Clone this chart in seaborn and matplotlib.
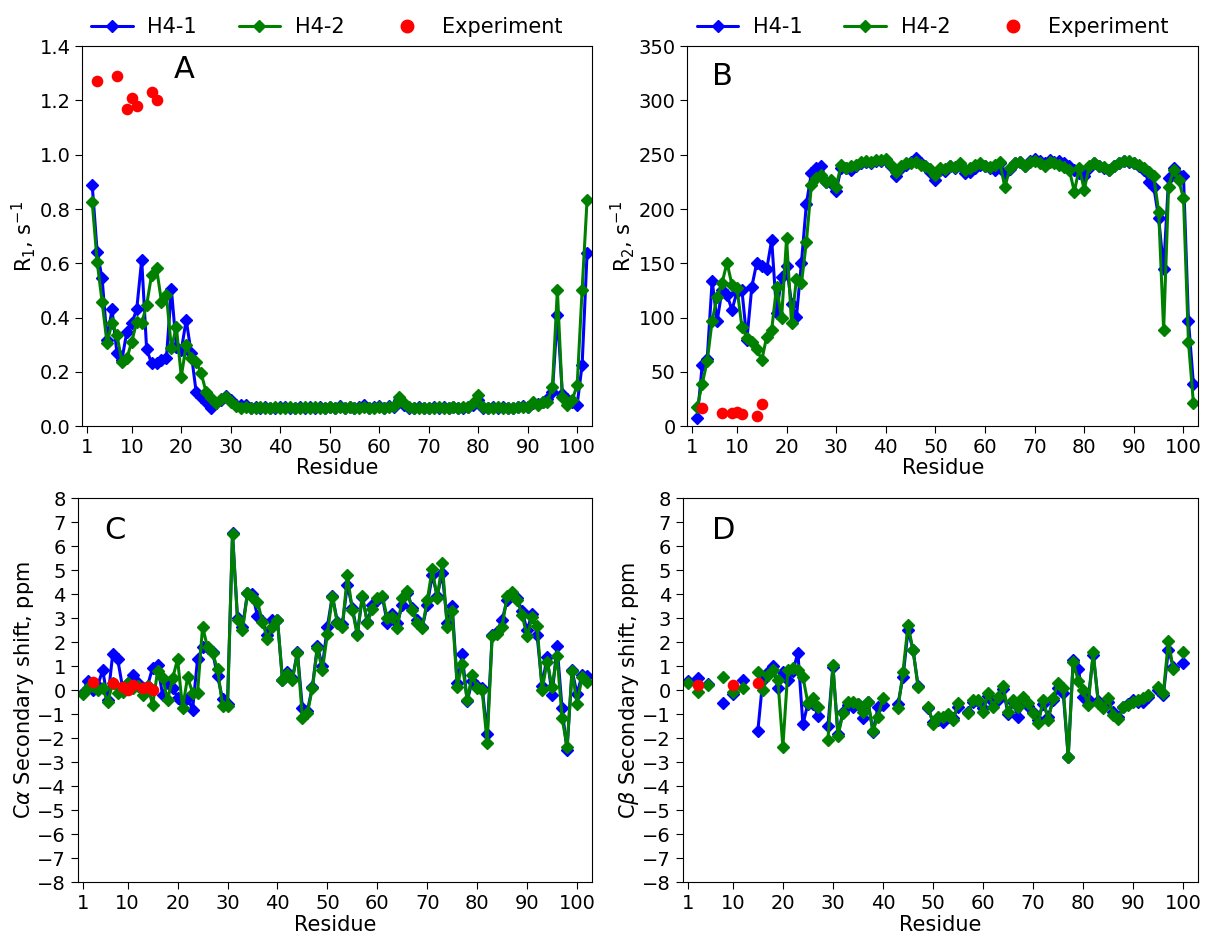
import numpy as np
import pandas as pd
import matplotlib
matplotlib.use("Agg")
import matplotlib.pyplot as plt
from matplotlib.lines import Line2D
import seaborn as sns

nan = np.nan

# --- DATA ---
# relaxation panels start at residue 2, chemical shift panels at residue 1
relax_residues = np.arange(2, 103)
shift_residues = np.arange(1, 103)

r1_h41 = [0.889, 0.643, 0.545, 0.318, 0.431, 0.27, 0.245, 0.348, 0.379, 0.431,
          0.613, 0.284, 0.232, 0.232, 0.244, 0.251, 0.505, 0.293, 0.28, 0.392,
          0.27, 0.127, 0.107, 0.091, 0.066, 0.085, 0.095, 0.11, 0.095, 0.08,
          0.08, 0.078, 0.068, 0.072, 0.066, 0.07, 0.068, 0.066, 0.07, 0.072,
          0.066, 0.068, 0.07, 0.066, 0.07, 0.068, 0.072, 0.066, 0.07, 0.068,
          0.074, 0.068, 0.07, 0.066, 0.07, 0.078, 0.068, 0.07, 0.074, 0.068,
          0.074, 0.07, 0.098, 0.08, 0.068, 0.066, 0.07, 0.068, 0.066, 0.07,
          0.068, 0.07, 0.066, 0.072, 0.066, 0.068, 0.072, 0.08, 0.095, 0.066,
          0.068, 0.07, 0.066, 0.07, 0.068, 0.066, 0.07, 0.075, 0.072, 0.085,
          0.082, 0.09, 0.1, 0.128, 0.41, 0.12, 0.1, 0.09, 0.08, 0.226, 0.637]
r1_h42 = [0.827, 0.606, 0.459, 0.306, 0.382, 0.336, 0.238, 0.25, 0.312, 0.385,
          0.379, 0.447, 0.557, 0.582, 0.459, 0.484, 0.287, 0.367, 0.183, 0.30,
          0.25, 0.238, 0.197, 0.127, 0.105, 0.085, 0.1, 0.109, 0.09, 0.073,
          0.066, 0.07, 0.066, 0.068, 0.07, 0.066, 0.068, 0.07, 0.066, 0.068,
          0.07, 0.068, 0.066, 0.07, 0.068, 0.07, 0.066, 0.068, 0.07, 0.066,
          0.07, 0.068, 0.07, 0.068, 0.066, 0.07, 0.068, 0.066, 0.07, 0.068,
          0.07, 0.075, 0.108, 0.085, 0.07, 0.066, 0.068, 0.066, 0.068, 0.066,
          0.07, 0.068, 0.066, 0.07, 0.068, 0.07, 0.072, 0.085, 0.115, 0.07,
          0.068, 0.066, 0.07, 0.068, 0.066, 0.068, 0.07, 0.072, 0.07, 0.091,
          0.078, 0.09, 0.09, 0.146, 0.502, 0.109, 0.078, 0.097, 0.152, 0.502, 0.834]
r1_exp_res = [3, 7, 9, 10, 11, 14, 15]
r1_exp = [1.27, 1.29, 1.17, 1.21, 1.18, 1.23, 1.20]

r2_h41 = [7.4, 56.5, 61.7, 134, 96.7, 125.5, 121, 107, 124, 125.5,
          79.5, 128.6, 150.7, 147.6, 144.6, 171.6, 104, 137.8, 147.6, 113,
          101, 150.7, 205, 233, 237.6, 239.7, 225, 224, 217, 238,
          238, 236, 240, 242, 243, 242, 244, 244, 245, 240,
          230, 238, 241, 243, 247, 242, 240, 234, 227, 236,
          235, 240, 238, 241, 233, 234, 238, 241, 240, 238,
          236, 242, 233, 237, 242, 243, 240, 244, 246, 244,
          242, 245, 243, 244, 242, 240, 236, 233, 230, 238,
          242, 240, 238, 236, 240, 242, 244, 243, 242, 240,
          236, 225, 220.7, 191.6, 144.6, 228.4, 238, 231.5, 230, 97.3, 39]
r2_h42 = [18, 39, 60, 97, 119, 132, 150.7, 130, 127, 91.7,
          81, 78, 70.9, 61, 82.5, 89, 128.6, 99.5, 173, 95,
          136, 131.7, 170, 222, 228.4, 231.5, 225, 227, 220.7, 240.7,
          238, 240, 241, 243, 244, 243, 245, 245, 246, 241,
          234, 240, 242, 242, 243, 241, 240, 237, 231, 238,
          237, 240, 239, 242, 236, 238, 241, 242, 240, 239,
          241, 243, 220, 238, 242, 243, 240, 243, 244, 242,
          240, 243, 242, 241, 239, 236, 216, 238, 217.6, 240,
          242, 240, 239, 236, 240, 242, 244, 244, 242, 241,
          238, 234, 230, 197.7, 88.7, 220.7, 236, 226.9, 210, 78, 21.2]
r2_exp_res = [3, 7, 9, 10, 11, 14, 15]
r2_exp = [16.4, 12.4, 12.4, 13.3, 11.2, 9.7, 20.3]

ca_h41 = [-0.1, 0.4, 0.0, 0.2, 0.85, -0.4, 1.5, 1.3, 0.1, 0.3,
          0.65, 0.3, 0.1, 0.2, 0.95, 1.05, -0.2, 0.3, 0.1, -0.3,
          -0.5, -0.3, -0.8, 1.3, 1.8, 1.75, 1.6, 0.6, -0.35, -0.55,
          6.55, 3.0, 2.65, 4.05, 4.0, 3.1, 2.9, 2.3, 2.95, 2.95,
          0.45, 0.75, 0.5, 1.6, -0.75, -0.85, 0.15, 1.85, 1.0, 2.65,
          3.95, 2.85, 2.75, 4.4, 3.45, 2.35, 3.9, 2.85, 3.55, 3.75,
          3.9, 2.8, 3.2, 2.8, 3.55, 4.05, 3.45, 2.95, 2.65, 3.55,
          4.8, 3.95, 4.9, 2.8, 3.5, 0.3, 1.5, -0.45, 0.4, 0.2,
          0.1, -1.8, 2.3, 2.45, 2.95, 3.75, 4.05, 3.85, 3.3, 2.5,
          3.2, 2.3, 0.2, 1.4, -0.2, 1.85, -0.75, -2.5, 0.85, -0.15,
          0.65, 0.6]
ca_h42 = [-0.15, 0.1, 0.2, 0.0, 0.1, -0.5, 0.3, -0.1, -0.05, 0.3,
          0.1, 0.2, -0.2, 0.2, -0.6, 0.8, 0.5, -0.4, 0.5, 1.3,
          -0.75, 0.55, -0.1, -0.1, 2.65, 1.8, 1.55, 0.9, -0.65, -0.65,
          6.5, 2.95, 2.5, 4.05, 3.9, 3.7, 2.85, 2.15, 2.65, 2.95,
          0.45, 0.7, 0.45, 1.55, -1.15, -0.95, 0.1, 1.75, 0.85, 2.35,
          3.9, 2.8, 2.65, 4.8, 3.35, 2.3, 3.95, 2.8, 3.4, 3.85,
          3.95, 3.0, 3.05, 2.6, 3.85, 4.15, 3.35, 2.8, 2.6, 3.75,
          5.05, 3.85, 5.3, 2.65, 3.3, 0.15, 1.1, -0.4, 0.65, 0.1,
          0.0, -2.2, 2.25, 2.35, 2.65, 3.95, 4.1, 3.75, 3.15, 2.25,
          3.05, 2.7, 0.0, 1.2, 0.15, 1.45, -1.15, -2.35, 0.8, -0.55,
          0.55, 0.35]
ca_exp_res = [3, 7, 9, 10, 11, 13, 14, 15]
ca_exp = [0.33, 0.29, 0.15, 0.0, 0.22, 0.08, 0.12, 0.0]

# glycines have no C-beta -> gaps
cb_h41 = [0.4, nan, 0.5, nan, 0.25, nan, nan, -0.52, nan, -0.15,
          nan, 0.45, nan, nan, -1.68, 0.45, 0.75, 1.0, 0.1, 0.75,
          0.45, 0.8, 1.57, -1.42, -0.55, -0.55, -1.05, nan, -1.5, 0.98,
          -1.83, -0.9, -0.6, -0.7, -0.55, -1.15, -0.5, -1.72, -0.7, -0.6,
          nan, nan, -0.55, 0.55, 2.5, 1.7, 0.2, nan, -0.75, -1.3,
          -1.24, -1.3, -1.1, -1.15, -0.7, nan, -0.9, -0.5, -0.45, -0.75,
          -0.25, -0.5, -0.4, 0.05, -1.0, -0.5, -1.1, -0.45, -0.65, -0.9,
          -1.24, -0.55, -1.1, -0.4, 0.1, -0.1, -2.77, 1.28, 0.89, -0.26,
          -0.35, 1.47, -0.45, -0.7, -0.5, -0.9, -1.1, -0.68, -0.55, -0.4,
          -0.5, -0.5, -0.28, nan, 0.0, -0.2, 1.68, 0.99, nan, 1.15,
          nan, nan]
cb_h42 = [0.29, nan, -0.06, nan, 0.22, nan, nan, 0.54, nan, -0.05,
          nan, 0.1, nan, nan, 0.78, 0.0, 0.64, 0.85, 0.43, -2.35,
          0.85, 0.92, 0.85, 0.57, -0.54, -0.33, -0.71, nan, -2.07, 1.05,
          -1.9, -0.96, -0.47, -0.47, -0.57, -0.89, -0.47, -1.68, -1.1, -0.3,
          nan, nan, -0.75, 0.78, 2.72, 1.68, 0.15, nan, -0.68, -1.39,
          -1.1, -1.1, -0.99, -1.24, -0.54, nan, -0.96, -0.4, -0.4, -0.89,
          -0.1, -0.68, -0.26, 0.18, -0.89, -0.4, -0.68, -0.26, -0.54, -0.96,
          -1.38, -0.4, -1.24, -0.3, 0.32, 0.11, -2.77, 1.2, 0.4, 0.0,
          -0.6, 1.61, -0.54, -0.75, -0.33, -1.03, -1.21, -0.68, -0.6, -0.47,
          -0.4, -0.3, -0.2, nan, 0.15, -0.13, 2.05, 0.88, nan, 1.61,
          nan, nan]
cb_exp_res = [3, 10, 15]
cb_exp = [0.22, 0.22, 0.3]

x_ticks = [1, 10, 20, 30, 40, 50, 60, 70, 80, 90, 100]

# --- STYLE ---
sns.set_style("ticks")
plt.rcParams['font.family'] = ['DejaVu Sans']
plt.rcParams['mathtext.fontset'] = 'dejavusans'
for key in ('text.color', 'axes.labelcolor', 'xtick.color', 'ytick.color', 'axes.edgecolor'):
    plt.rcParams[key] = 'black'

BLUE, GREEN, RED = 'blue', 'green', 'red'
LW, MS = 2.2, 6


def draw_series(ax, res, vals, color):
    """Line with diamond markers; NaN values break the line into pieces."""
    df = pd.DataFrame({'Residue': res, 'Value': vals})
    df['seg'] = df['Value'].isna().cumsum()
    df = df.dropna()
    sns.lineplot(data=df, x='Residue', y='Value', units='seg', estimator=None,
                 color=color, marker='D', markersize=MS, linewidth=LW,
                 markeredgecolor=color, markeredgewidth=1, sort=False,
                 legend=False, ax=ax)


def draw_exp(ax, res, vals):
    sns.scatterplot(x=res, y=vals, color=RED, s=70, edgecolor=RED,
                    linewidth=0, zorder=5, legend=False, ax=ax)


fig = plt.figure(figsize=(12.05, 9.34), dpi=100)
axA = fig.add_axes([0.0683, 0.5436, 0.4230, 0.4070])
axB = fig.add_axes([0.5704, 0.5436, 0.4241, 0.4070])
axC = fig.add_axes([0.0645, 0.0553, 0.4268, 0.4111])
axD = fig.add_axes([0.5666, 0.0553, 0.4279, 0.4111])

panels = [
    (axA, relax_residues, r1_h41, r1_h42, r1_exp_res, r1_exp, 'R$_1$, s$^{-1}$', 'A', (0.20, 0.938)),
    (axB, relax_residues, r2_h41, r2_h42, r2_exp_res, r2_exp, 'R$_2$, s$^{-1}$', 'B', (0.069, 0.92)),
    (axC, shift_residues, ca_h41, ca_h42, ca_exp_res, ca_exp, 'C$\\alpha$ Secondary shift, ppm', 'C', (0.072, 0.917)),
    (axD, shift_residues, cb_h41, cb_h42, cb_exp_res, cb_exp, 'C$\\beta$ Secondary shift, ppm', 'D', (0.079, 0.917)),
]

for ax, res, h41, h42, eres, evals, ylab, letter, lpos in panels:
    draw_series(ax, res, h41, BLUE)
    draw_series(ax, res, h42, GREEN)
    draw_exp(ax, eres, evals)
    ax.set_xlim(0, 103)
    ax.set_xticks(x_ticks)
    ax.set_xlabel('Residue', fontsize=15, labelpad=1)
    ax.set_ylabel(ylab, fontsize=15, labelpad=1)
    ax.tick_params(labelsize=14, length=5)
    ax.text(lpos[0], lpos[1], letter, transform=ax.transAxes, fontsize=22,
            ha='center', va='center', color='black')

axA.set_ylim(0, 1.4)
axA.set_yticks(np.arange(0, 1.41, 0.2))
axB.set_ylim(0, 350)
axB.set_yticks(np.arange(0, 351, 50))
for ax in (axC, axD):
    ax.set_ylim(-8, 8)
    ax.set_yticks(np.arange(-8, 9, 1))

# legends above the two top panels
handles = [
    Line2D([], [], color=BLUE, marker='D', lw=LW, ms=MS, mec=BLUE),
    Line2D([], [], color=GREEN, marker='D', lw=LW, ms=MS, mec=GREEN),
    Line2D([], [], color=RED, marker='o', ls='', ms=9, mec=RED),
]
labels = ['H4-1', 'H4-2', 'Experiment']
for ax in (axA, axB):
    ax.legend(handles, labels, loc='lower center', bbox_to_anchor=(0.48, 0.99),
              ncol=3, frameon=False, fontsize=15, columnspacing=2.0,
              handlelength=2.0, handletextpad=0.7, borderaxespad=0.2)

plt.savefig('out.png', dpi=100)
